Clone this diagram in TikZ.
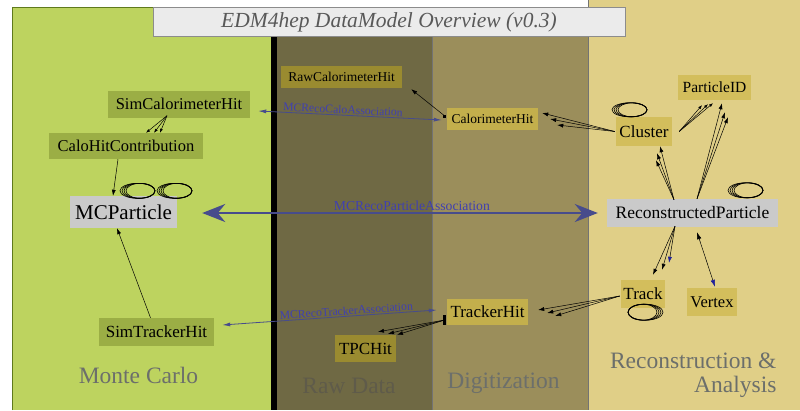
\documentclass[tikz,border=0pt]{standalone}
\usepackage{fontspec}
\setmainfont{Liberation Serif}
\usetikzlibrary{arrows.meta, calc}

\definecolor{mcgreen}{HTML}{BDD35F}
\definecolor{mcborder}{HTML}{5F7A1C}
\definecolor{rawbg}{HTML}{6F6944}
\definecolor{digibg}{HTML}{9B8E5B}
\definecolor{recobg}{HTML}{E0CF87}
\definecolor{simfill}{HTML}{9BAE45}
\definecolor{rawfill}{HTML}{9A8B30}
\definecolor{digifill}{HTML}{C3AF4C}
\definecolor{recofill}{HTML}{D3BE5C}
\definecolor{corefill}{HTML}{CACACA}
\definecolor{assocline}{HTML}{474C8C}
\definecolor{assoctext}{HTML}{4040B0}
\definecolor{arealabel}{HTML}{6C6F6B}
\definecolor{darklabel}{HTML}{5F5B4A}
\definecolor{vtxblue}{HTML}{1F1F9A}

\newcommand{\fsz}[1]{\fontsize{#1}{#1}\selectfont}

\begin{document}
\begin{tikzpicture}[x=1pt, y=-1pt,
    box/.style={inner sep=0pt, text=black},
    simbox/.style={box, fill=simfill},
    rawbox/.style={box, fill=rawfill},
    digibox/.style={box, fill=digifill},
    recobox/.style={box, fill=recofill},
    corebox/.style={box, fill=corefill},
    edge/.style={-{Latex[length=6pt,width=4pt]}, line width=0.5pt, black},
    tinyedge/.style={-{Latex[length=4pt,width=3pt]}, line width=0.5pt, black},
    loopline/.style={line width=0.6pt, black},
    assoc/.style={{Latex[length=8pt,width=4pt]}-{Latex[length=8pt,width=4pt]}, line width=0.8pt, assocline},
    assoclabel/.style={text=assoctext, inner sep=1pt, font=\fsz{11.7}},
    area/.style={text=arealabel, font=\fsz{23.5}}]

    \useasboundingbox (0,0) rectangle (800,410);
    \fill[white] (0,0) rectangle (800,410);

    % ---- Areas ----
    \fill[recobg] (588,0) rectangle (800,410);
    \fill[mcgreen] (12,7) rectangle (271,410);
    \draw[mcborder, line width=1pt] (12,410) -- (12,7) -- (271,7);
    \fill[rawbg] (277,7) rectangle (432,410);
    \fill[digibg] (432,7) rectangle (588,410);
    \draw[black!55, line width=0.6pt] (432,7) -- (432,410);
    \draw[black!55, line width=0.6pt] (588,0) -- (588,410);
    \fill[black] (271,36) rectangle (277,410);

    % ---- Title ----
    \node[draw=black!45, fill=black!8, line width=0.6pt, minimum width=472, minimum height=29,
          inner sep=0pt, text=black!65, font=\fsz{21.5}\itshape] (title) at (389,22)
        {EDM4hep DataModel Overview (v0.3)};

    % ---- Monte Carlo ----
    \node[simbox, minimum width=142, minimum height=27, font=\fsz{16.5}] (sch) at (179,104) {SimCalorimeterHit};
    \node[simbox, minimum width=154, minimum height=26, font=\fsz{16.5}] (chc) at (126,146) {CaloHitContribution};
    \node[corebox, minimum width=107, minimum height=32, font=\fsz{21}] (mcp) at (123.5,212) {MCParticle};
    \node[simbox, minimum width=115, minimum height=28, font=\fsz{17}] (sth) at (156.5,332) {SimTrackerHit};

    % ---- Raw data and digitization ----
    \node[rawbox, minimum width=121, minimum height=22, font=\fsz{13.5}] (rch) at (341.5,77) {RawCalorimeterHit};
    \node[digibox, minimum width=91, minimum height=22, font=\fsz{13.5}] (cah) at (492.5,119) {CalorimeterHit};
    \node[digibox, minimum width=81, minimum height=26, font=\fsz{17}] (trh) at (487.5,312) {TrackerHit};
    \node[rawbox, minimum width=61, minimum height=27, font=\fsz{17}] (tpc) at (365.5,348.5) {TPCHit};

    % ---- Reconstruction ----
    \node[recobox, minimum width=56, minimum height=29, font=\fsz{17}] (cl) at (644,131.5) {Cluster};
    \node[recobox, minimum width=73, minimum height=25, font=\fsz{15.5}] (pid) at (714.5,87.5) {ParticleID};
    \node[corebox, minimum width=171, minimum height=28, font=\fsz{17.5}] (rcp) at (692.5,213) {ReconstructedParticle};
    \node[recobox, minimum width=44, minimum height=28, font=\fsz{17}] (tr) at (643,294) {Track};
    \node[recobox, minimum width=50, minimum height=28, font=\fsz{16.5}] (vx) at (712,302) {Vertex};

    % ---- Area labels ----
    \node[area] (lmc) at (138.5,375) {Monte Carlo};
    \node[area, text=darklabel] (lraw) at (349,386) {Raw Data};
    \node[area] (ldigi) at (503.5,383) {Digitization};
    \node[area, align=right, anchor=east] (lreco) at (780,375)
        {Reconstruction \&\\Analysis};

    % ---- Monte Carlo relations ----
    \foreach \dx in {20,28,34}
        \draw[tinyedge] ([shift={(-12,-2)}]sch.south) -- ([xshift=\dx]chc.north);
    \draw[edge] ([xshift=-8]chc.south) -- ([xshift=-10.5]mcp.north);
    \draw[edge] ([xshift=-6]sth.north) -- ([xshift=-6.5]mcp.south);
    \foreach \k in {0,1,2,3} {
        \draw[loopline] ($(mcp.north)+(14+\k,-5)$) ellipse ({17.5-\k} and 7.5);
        \draw[loopline] ($(mcp.north)+(51+\k,-5)$) ellipse ({17.5-\k} and 7.5);
    }

    % ---- Associations ----
    \draw[{Stealth[length=23pt,width=18pt]}-{Stealth[length=23pt,width=18pt]}, line width=2.5pt, assocline]
        ([shift={(25,1)}]mcp.east) -- ([xshift=-9]rcp.west)
        node[pos=0.53, above, text=assoctext, inner sep=1pt, font=\fsz{13.7}] (lpart) {MCRecoParticleAssociation};
    \draw[assoc] ([shift={(8,7)}]sch.east) -- ([shift={(-5,1)}]cah.west)
        node[pos=0.46, sloped, above, assoclabel] (lcalo) {MCRecoCaloAssociation};
    \draw[assoc] ([shift={(8,-7)}]sth.east) -- ([shift={(-10,-2)}]trh.west)
        node[pos=0.58, sloped, above, assoclabel] (ltrk) {MCRecoTrackerAssociation};

    % ---- Digitization relations ----
    \fill[black] ($(cah.west)+(-3.5,-4.5)$) rectangle ++(3,3);
    \draw[edge] ([shift={(-2,-3)}]cah.west) -- ([shift={(9,1)}]rch.south east);
    \fill[black] ($(trh.west)+(-4,3)$) rectangle ++(3,10);
    \foreach \dx/\dy in {12.5/-3, 22.5/-1, 31.5/0}
        \draw[edge] ([shift={(-2,8)}]trh.west) -- ([shift={(\dx,\dy)}]tpc.north);

    % ---- Reconstruction relations ----
    \foreach \dx/\dy in {4/-6, 12/0, 19/6}
        \draw[edge] ([xshift=-1]cl.west) -- ([shift={(\dx,\dy)}]cah.east);
    \foreach \dx/\dy in {-12.5/5, -6.5/4, -1.5/3}
        \draw[tinyedge] ([xshift=7]cl.east) -- ([shift={(\dx,\dy)}]pid.south);
    \foreach \dx/\dy in {7.5/3, 10.5/12, 13.5/17}
        \draw[edge] ([xshift=4.5]rcp.north) -- ([shift={(\dx,\dy)}]pid.south);
    \foreach \dx/\dy in {16/0, 13/7, 12/14}
        \draw[edge] ([shift={(-18.5,1)}]rcp.north) -- ([shift={(\dx,\dy)}]cl.south);
    \foreach \dx/\dy in {10/-5, 19/-10}
        \draw[edge] ([shift={(-17.5,-1)}]rcp.south) -- ([shift={(\dx,\dy)}]tr.north);
    \draw[edge, -{Latex[length=6pt,width=4pt,color=vtxblue]}]
        ([shift={(-17.5,-1)}]rcp.south) -- ([shift={(26,-17)}]tr.north);
    \draw[line width=0.5pt, {Latex[length=7pt,width=4.5pt]}-{Latex[length=7pt,width=4.5pt,color=vtxblue]}]
        ([shift={(4.5,5)}]rcp.south) -- ([shift={(3,-1)}]vx.north);
    \foreach \dx/\dy in {10/-2, 19/1, 27/4}
        \draw[edge] ([shift={(-1,2)}]tr.west) -- ([shift={(\dx,\dy)}]trh.east);
    \foreach \k in {0,1,2,3} {
        \draw[loopline] ($(cl.north)+(-14.5+\k,-7)$) ellipse ({17.5-\k} and 7);
        \draw[loopline] ($(rcp.north)+(53+\k,-8.5)$) ellipse ({17.5-\k} and 7.5);
        \draw[loopline] ($(tr.south)+(2.5-\k,4)$) ellipse ({17.5-\k} and 8);
    }

\end{tikzpicture}
\end{document}
